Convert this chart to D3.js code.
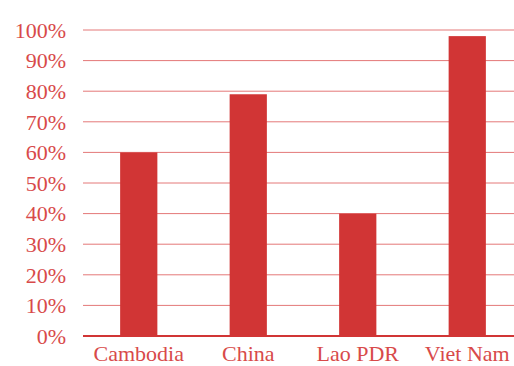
<!DOCTYPE html>
<html>
<head>
<meta charset="utf-8">
<script src="https://cdn.jsdelivr.net/npm/d3@7"></script>
<style>
  html, body { margin: 0; padding: 0; background: #fff; }
  svg { display: block; }
</style>
</head>
<body>
<svg id="chart" width="514" height="366"></svg>
<script>
// Share of respondents per country
const categories = ["Cambodia", "China", "Lao PDR", "Viet Nam"];
const values = [60, 79, 40, 98];
const yTicks = [0, 10, 20, 30, 40, 50, 60, 70, 80, 90, 100];

const barColor = "#d13535";
const gridColor = "#e47878";
const textColor = "#d84a4a";
const fontFamily = "'Liberation Serif', 'DejaVu Serif', serif";

const svg = d3.select("#chart");
const margin = { left: 84, top: 30, bottom: 30 };
const width = 514, height = 366;

const x = d3.scaleBand()
  .domain(categories)
  .range([margin.left, margin.left + 438])
  .paddingInner(0.66)
  .paddingOuter(0.33);

const y = d3.scaleLinear()
  .domain([0, 100])
  .range([height - margin.bottom, margin.top]);

// Horizontal grid lines
svg.append("g")
  .selectAll("line")
  .data(yTicks.filter(d => d > 0))
  .join("line")
  .attr("x1", margin.left - 1)
  .attr("x2", width)
  .attr("y1", d => y(d))
  .attr("y2", d => y(d))
  .attr("stroke", gridColor)
  .attr("stroke-width", 1);

// Y tick labels
svg.append("g")
  .selectAll("text")
  .data(yTicks)
  .join("text")
  .attr("x", 66)
  .attr("y", d => y(d))
  .attr("dy", "0.35em")
  .attr("text-anchor", "end")
  .attr("fill", textColor)
  .attr("font-family", fontFamily)
  .attr("font-size", 22)
  .text(d => d + "%");

// Bars
svg.append("g")
  .selectAll("rect")
  .data(values)
  .join("rect")
  .attr("x", (d, i) => x(categories[i]))
  .attr("width", x.bandwidth())
  .attr("y", d => y(d))
  .attr("height", d => y(0) - y(d))
  .attr("fill", barColor);

// Baseline
svg.append("line")
  .attr("x1", margin.left - 1)
  .attr("x2", width)
  .attr("y1", y(0))
  .attr("y2", y(0))
  .attr("stroke", barColor)
  .attr("stroke-width", 2);

// Category labels
svg.append("g")
  .selectAll("text")
  .data(categories)
  .join("text")
  .attr("x", d => x(d) + x.bandwidth() / 2)
  .attr("y", 361)
  .attr("text-anchor", "middle")
  .attr("fill", textColor)
  .attr("font-family", fontFamily)
  .attr("font-size", 22)
  .text(d => d);
</script>
</body>
</html>
